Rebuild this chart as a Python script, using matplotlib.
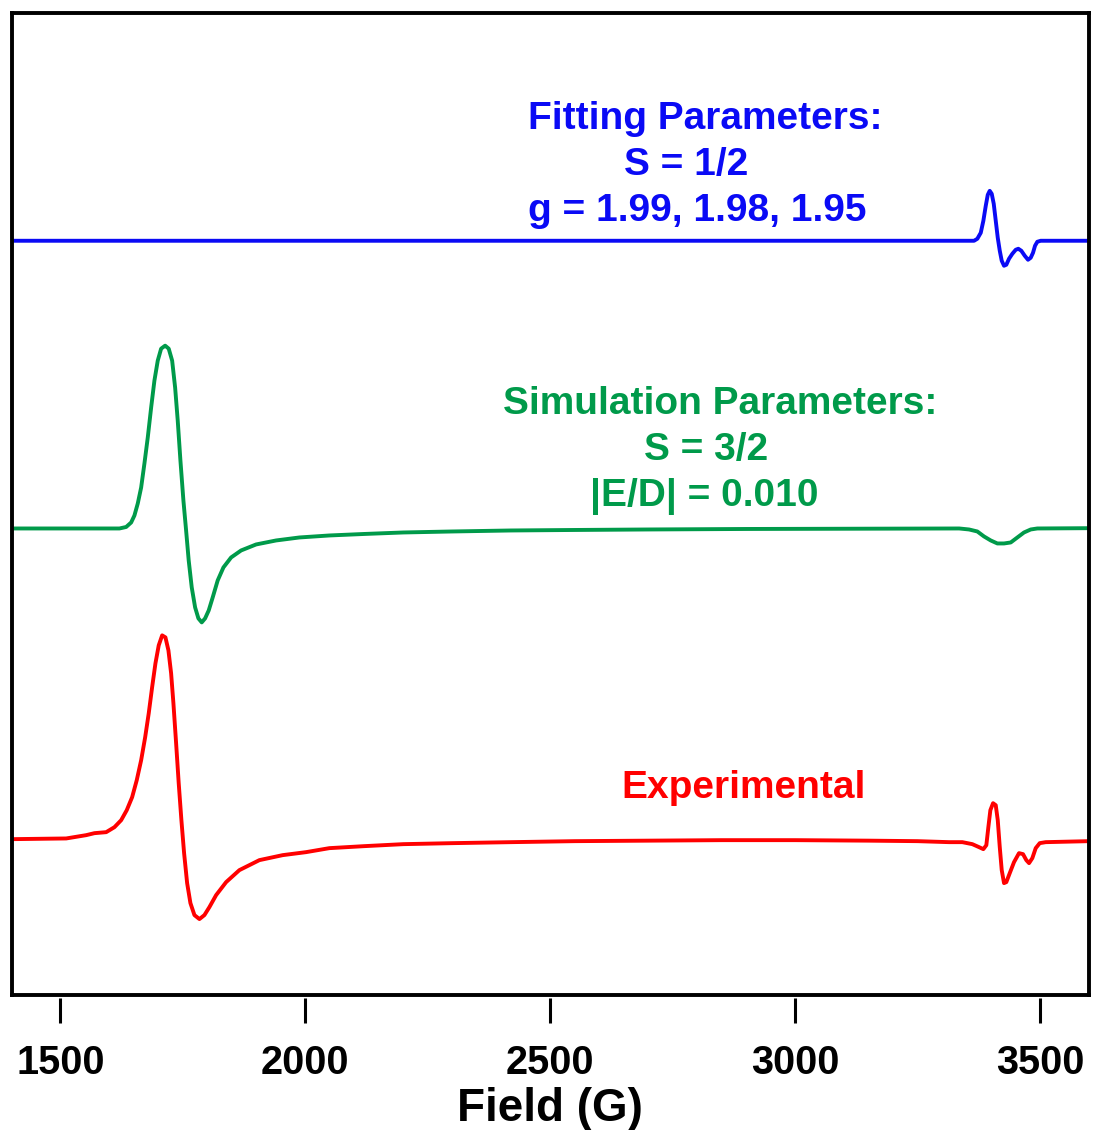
import matplotlib
matplotlib.use("Agg")
import matplotlib.pyplot as plt

plt.rcParams['font.family'] = ['Liberation Sans', 'DejaVu Sans']
plt.rcParams['font.weight'] = 'bold'

# ---- data (field in G, intensity in arbitrary units relative to each baseline) ----
fit_field = [1400, 3365.3, 3372.0, 3379.0, 3384.3, 3389.2, 3393.3, 3397.3, 3401.4, 3405.5,
             3409.6, 3413.7, 3417.8, 3421.8, 3426.5, 3431.2, 3436.7, 3443.5, 3450.4, 3455.7,
             3461.8, 3468.8, 3475.5, 3481.0, 3485.7, 3489.8, 3494.5, 3501.4, 3600]
fit_int = [0, 0, 2, 8, 20, 35, 46, 50, 47, 37,
           20, 3, -10, -20, -25, -24, -18, -13, -9, -8,
           -10, -15, -19, -17, -12, -5, -1, 0, 0]

sim_field = [1400, 1620.4, 1634.1, 1644.3, 1651.0, 1657.8, 1664.7, 1671.4, 1678.2, 1685.1,
             1691.8, 1698.6, 1705.5, 1713.7, 1721.0, 1728.0, 1734.1, 1739.4, 1744.9, 1751.0,
             1756.5, 1761.8, 1768.0, 1774.9, 1781.6, 1788.4, 1795.3, 1802.7, 1810.8, 1821.0,
             1832.7, 1848.4, 1868.8, 1899.4, 1940.2, 1987.8, 2049.0, 2120, 2200, 2300,
             2420, 2550, 2700, 2900, 3335, 3355.1, 3372.0, 3385.7, 3399.4, 3412.9,
             3426.5, 3440.2, 3453.7, 3467.3, 3481.0, 3494.5, 3600]
sim_int = [0, 0, 1.5, 6, 13, 25, 41, 65, 91, 121,
           148, 168, 180, 183, 180, 168, 141, 108, 68, 28,
           -2, -32, -59, -79, -90, -94, -90, -82, -69, -52,
           -39, -29, -22, -16, -12, -9, -7, -5.5, -4, -3,
           -2, -1.5, -1, -0.5, 0, -1, -3, -8, -12, -15,
           -15, -14, -9, -4, -1, 0, 0.3]

exp_field = [1400, 1511.6, 1552.4, 1569.4, 1593.3, 1610.2, 1623.9, 1635.3, 1646.3, 1655.7,
             1664.7, 1672.9, 1680.2, 1687.1, 1693.9, 1700.6, 1707.6, 1714.3, 1720.4, 1725.9,
             1730.6, 1736.1, 1741.4, 1746.9, 1752.4, 1758.6, 1765.3, 1773.5, 1783.7, 1793.9,
             1804.1, 1817.8, 1838.2, 1865.3, 1906.1, 1953.7, 2001.4, 2049.0, 2120, 2200,
             2300, 2420, 2550, 2700, 2850, 3000, 3150, 3250, 3314.3, 3341.4,
             3361.8, 3375.5, 3384.3, 3390.4, 3394.5, 3398.6, 3404.1, 3409.6, 3413.7, 3417.8,
             3421.8, 3426.5, 3431.2, 3438.2, 3446.9, 3457.1, 3465.3, 3472.0, 3477.6, 3484.3,
             3491.2, 3499.4, 3511.6, 3600]
exp_int = [0, 0.7, 4, 6, 7, 12, 19, 29, 42, 59,
           79, 102, 126, 152, 176, 194, 204, 202, 189, 166,
           136, 96, 56, 19, -14, -44, -64, -76, -80, -76,
           -68, -56, -43, -31, -21, -16, -13, -9, -7, -5,
           -4, -3, -2, -1.5, -1, -1, -1.5, -2, -3, -3,
           -5, -8, -10, -6, 12, 29, 36, 34, 19, -8,
           -31, -44, -43, -34, -23, -14, -15, -21, -24, -19,
           -9, -4, -3, -2]

offsets = {'fit': 755, 'sim': 467, 'exp': 156}
xticks = [1500, 2000, 2500, 3000, 3500]

blue = '#0A0AF5'
green = '#009A4A'
red = '#FF0000'

fig = plt.figure(figsize=(10.94, 11.30), dpi=100)
ax = fig.add_axes([11.5 / 1094, 135 / 1130, 1077.5 / 1094, 982 / 1130])

lw = 2.8
ax.plot(fit_field, [v + offsets['fit'] for v in fit_int], color=blue, lw=lw,
        solid_joinstyle='round', solid_capstyle='round')
ax.plot(sim_field, [v + offsets['sim'] for v in sim_int], color=green, lw=lw,
        solid_joinstyle='round', solid_capstyle='round')
ax.plot(exp_field, [v + offsets['exp'] for v in exp_int], color=red, lw=lw,
        solid_joinstyle='round', solid_capstyle='round')

ax.set_xlim(1400, 3600)
ax.set_ylim(0, 983)
ax.set_yticks([])

for s in ['left', 'right', 'top']:
    ax.spines[s].set_linewidth(2.8)
ax.spines['bottom'].set_position(('outward', 2))
ax.spines['bottom'].set_visible(False)
ax.plot([0, 1], [0, 0], transform=ax.transAxes, color='black', lw=2.8, clip_on=False,
        solid_capstyle='projecting')

ax.set_xticks(xticks)
ax.set_xticklabels([str(t) for t in xticks])
ax.tick_params(axis='x', direction='out', length=18, width=2.2, pad=15, color='black',
               labelsize=28.5)
for lab in ax.get_xticklabels():
    lab.set_fontweight('bold')

ax.set_xlabel('Field (G)', fontsize=33, fontweight='bold', labelpad=4)

tk = dict(transform=ax.transAxes, ha='center', va='baseline', fontsize=28, fontweight='bold')
ax.text(0.6437, 0.8819, 'Fitting Parameters:', color=blue, **tk)
ax.text(0.626, 0.835, 'S = 1/2', color=blue, **tk)
ax.text(0.636, 0.788, 'g = 1.99, 1.98, 1.95', color=blue, **tk)
ax.text(0.658, 0.5916, 'Simulation Parameters:', color=green, **tk)
ax.text(0.6445, 0.5448, 'S = 3/2', color=green, **tk)
ax.text(0.6427, 0.498, '|E/D| = 0.010', color=green, **tk)
ax.text(0.6798, 0.2006, 'Experimental', color=red, **tk)

fig.savefig('out.png', dpi=100)
